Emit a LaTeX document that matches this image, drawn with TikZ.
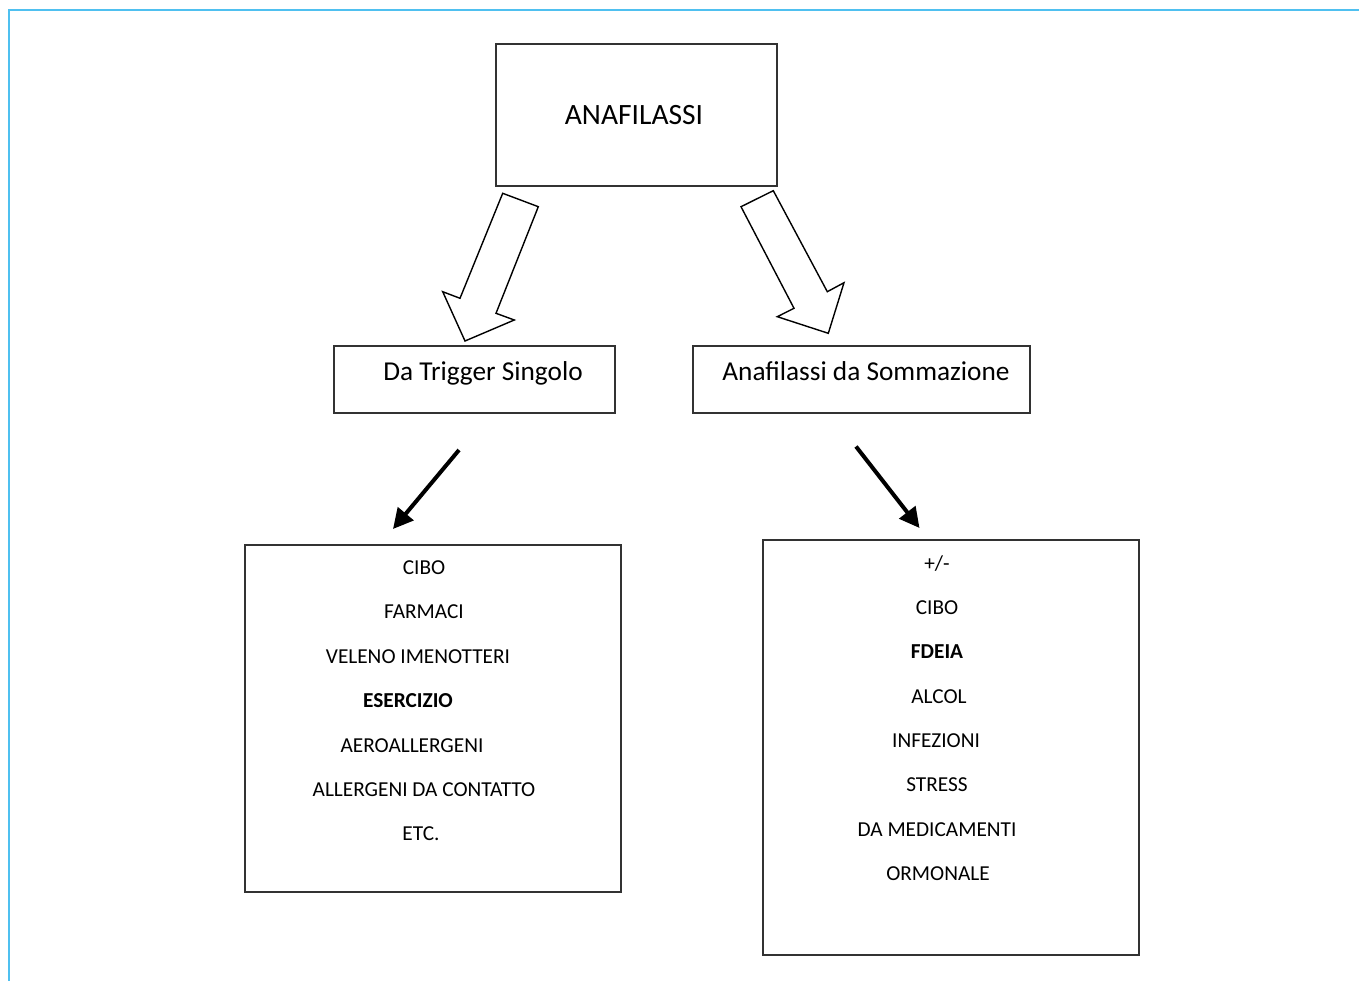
\documentclass[tikz,border=0pt]{standalone}
\usepackage{fontspec}
\setmainfont{Carlito}
\usetikzlibrary{arrows.meta}
\definecolor{frameblue}{RGB}{79,192,240}
\definecolor{boxline}{RGB}{50,50,50}
\tikzset{
  box/.style={draw=boxline, line width=1.4pt, fill=none, inner sep=0pt},
  blockarrow/.style={draw=black, line width=1.4pt, line join=miter, fill=white},
  thinarrow/.style={draw=black, line width=4pt, -{Triangle[length=20pt,width=20pt]}},
  item/.style={anchor=base, inner sep=0pt, font=\fontsize{21.3}{24}\selectfont},
  title/.style={anchor=base, inner sep=0pt, font=\fontsize{29.5}{32}\selectfont},
  sub/.style={anchor=base, inner sep=0pt, font=\fontsize{27.3}{30}\selectfont},
}
\begin{document}
\begin{tikzpicture}[x=1pt,y=-1pt]
\useasboundingbox (0,0) rectangle (1359,981);
% page frame
\draw[frameblue, line width=2pt] (1359,10.5) -- (8.5,10.5) -- (8.5,981);
% boxes
\node[box, minimum width=281pt, minimum height=142pt] (top) at (636.5,115) {};
\node[box, minimum width=281pt, minimum height=67pt] (left) at (474.5,379.5) {};
\node[box, minimum width=337pt, minimum height=67pt] (right) at (861.5,379.5) {};
\node[box, minimum width=376pt, minimum height=347pt] (llist) at (433,718.5) {};
\node[box, minimum width=376pt, minimum height=415pt] (rlist) at (951,747.5) {};
% texts
\node[title] (ttop) at (634,125) {ANAFILASSI};
\node[sub] (tleft) at (483,380) {Da Trigger Singolo};
\node[sub] (tright) at (866,380) {Anafilassi da Sommazione};
% left list
\node[item] (l1) at (424,574) {CIBO};
\node[item] (l2) at (424,618.5) {FARMACI};
\node[item] (l3) at (418,663) {VELENO IMENOTTERI};
\node[item] (l4) at (408,707.5) {\bfseries ESERCIZIO};
\node[item] (l5) at (412,752) {AEROALLERGENI};
\node[item] (l6) at (424,796) {ALLERGENI DA CONTATTO};
\node[item] (l7) at (421,840.5) {ETC.};
% right list
\node[item] (r0) at (937,570) {+/-};
\node[item] (r1) at (937,614) {CIBO};
\node[item] (r2) at (937,658.5) {\bfseries FDEIA};
\node[item] (r3) at (939,703) {ALCOL};
\node[item] (r4) at (936,747) {INFEZIONI};
\node[item] (r5) at (937,791.5) {STRESS};
\node[item] (r6) at (937,836) {DA MEDICAMENTI};
\node[item] (r7) at (938,880) {ORMONALE};
% block arrows
\draw[blockarrow] (502.7,193.3) -- (538.3,206.7) -- (496,313.3) -- (514.3,320) -- (465,341) -- (442.7,291.7) -- (460,298.3) -- cycle;
\draw[blockarrow] (741,206.7) -- (773.3,190.7) -- (827.3,291.7) -- (844,282.7) -- (828.3,333.3) -- (777.3,316.7) -- (794,308.3) -- cycle;
% thin arrows
\coordinate (ls) at (459,450);
\coordinate (le) at (393,529);
\coordinate (rs) at (856,446.5);
\coordinate (re) at (919.5,528);
\draw[thinarrow] (ls) -- (le);
\draw[thinarrow] (rs) -- (re);
\end{tikzpicture}
\end{document}
